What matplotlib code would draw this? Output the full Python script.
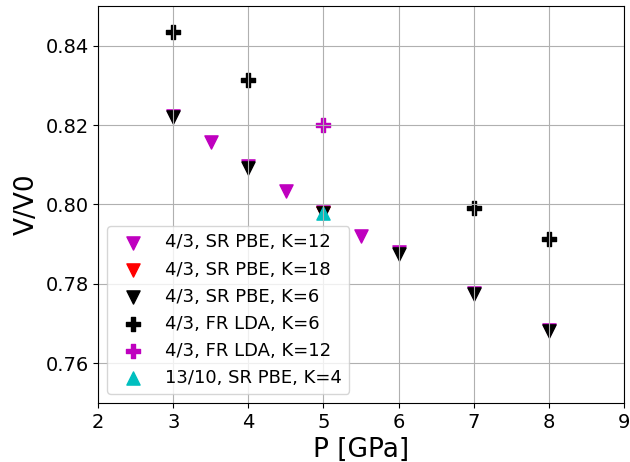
import matplotlib
matplotlib.use("Agg")
import matplotlib.pyplot as plt

# SR PBE, K=12
p_pbe12 = [3, 3.5, 4, 4.5, 5, 5.5, 6, 7, 8]
v_pbe12 = [0.8222, 0.8158, 0.8097, 0.8035, 0.7980, 0.7920, 0.7880, 0.7778, 0.7683]
# SR PBE, K=18
p_pbe18 = [5]
v_pbe18 = [0.7978]
# SR PBE, K=6
p_pbe6 = [3, 4, 5, 6, 7, 8]
v_pbe6 = [0.8220, 0.8092, 0.7978, 0.7876, 0.7775, 0.7680]
# FR LDA, K=6
p_lda6 = [3, 4, 7, 8]
v_lda6 = [0.8435, 0.8314, 0.7990, 0.7914]
# FR LDA, K=12
p_lda12 = [5]
v_lda12 = [0.8200]
# 13/10 SR PBE, K=4
p_1310 = [5]
v_1310 = [0.7978]

fig, ax = plt.subplots(figsize=(6.3, 4.62), dpi=100)
ax.scatter(p_pbe12, v_pbe12, marker='v', c='m', s=90, label="4/3, SR PBE, K=12")
ax.scatter(p_pbe18, v_pbe18, marker='v', c='r', s=90, label="4/3, SR PBE, K=18")
ax.scatter(p_pbe6, v_pbe6, marker='v', c='k', s=90, label="4/3, SR PBE, K=6")
ax.scatter(p_lda6, v_lda6, marker='P', c='k', s=90, label="4/3, FR LDA, K=6")
ax.scatter(p_lda12, v_lda12, marker='P', c='m', s=90, label="4/3, FR LDA, K=12")
ax.scatter(p_1310, v_1310, marker='^', c='c', s=90, label="13/10, SR PBE, K=4")

ax.set_xlim(2, 9)
ax.set_ylim(0.75, 0.85)
ax.set_xlabel("P [GPa]", fontsize=19)
ax.set_ylabel("V/V0", fontsize=19)
ax.tick_params(labelsize=14)
ax.grid()
ax.legend(fontsize=13, loc='lower left')
plt.subplots_adjust(left=0.156, right=0.990, top=0.987, bottom=0.128)
plt.savefig("out.png")
